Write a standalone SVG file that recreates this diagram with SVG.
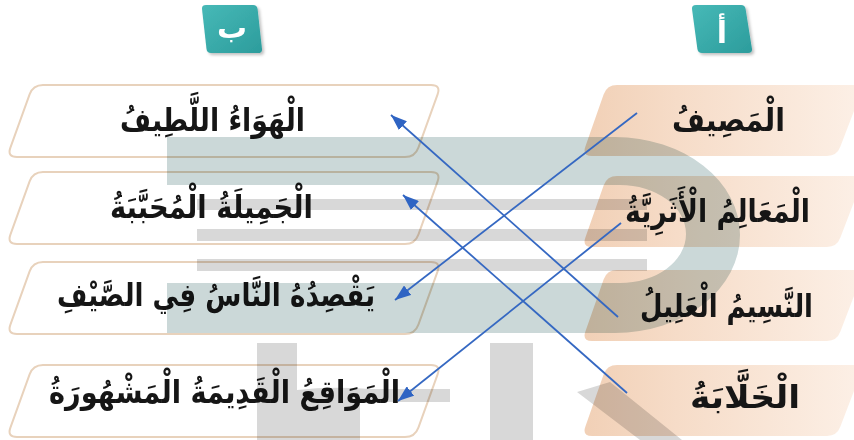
<svg xmlns="http://www.w3.org/2000/svg" xmlns:xlink="http://www.w3.org/1999/xlink" width="854" height="440" viewBox="0 0 854 440">
<defs>
<style>
.lbox{fill:#ffffff;stroke:#e8d2bc;stroke-width:2}
.rbox{fill:url(#peach)}
.t{font-family:"DejaVu Sans","Noto Sans",sans-serif;font-weight:bold;font-size:32px;fill:#161616;text-anchor:middle}
.tabt{font-family:"DejaVu Sans","Noto Sans",sans-serif;font-weight:bold;font-size:30px;fill:#ffffff;text-anchor:middle}
.tab{fill:url(#teal);filter:url(#sh)}
.wm{mix-blend-mode:multiply}
.conn{stroke:#3568c2;stroke-width:1.8;fill:none;marker-end:url(#ah)}
</style>
<linearGradient id="peach" gradientUnits="userSpaceOnUse" x1="582" y1="0" x2="854" y2="0">
<stop offset="0" stop-color="#f1d0b6"/>
<stop offset="0.35" stop-color="#f6dcc8"/>
<stop offset="1" stop-color="#fcefe5"/>
</linearGradient>
<linearGradient id="teal" x1="0" y1="0" x2="1" y2="1">
<stop offset="0" stop-color="#47b9b7"/>
<stop offset="1" stop-color="#2c9c9c"/>
</linearGradient>
<filter id="sh" x="-20%" y="-20%" width="150%" height="150%">
<feDropShadow dx="2" dy="2" stdDeviation="1.5" flood-color="#000" flood-opacity="0.25"/>
</filter>
<marker id="ah" viewBox="0 0 16 12" refX="16" refY="6" markerWidth="16" markerHeight="12" markerUnits="userSpaceOnUse" orient="auto">
<path d="M0,0 L16,6 L0,12 Z" fill="#2f64c3"/>
</marker>
<path id="lshape" d="M43,0 H431 Q441,0 437.6,9.4 L418.4,62.6 Q415,72 405,72 H17 Q7,72 10.4,62.6 L29.6,9.4 Q33,0 43,0 Z"/>
<path id="rshape" d="M617,0 H864 L840.4,61.6 Q837,71 827,71 H592 Q582,71 585.4,61.6 L603.6,9.4 Q607,0 617,0 Z"/>
</defs>
<rect width="854" height="440" fill="#ffffff"/>

<g id="tab-b">
<path class="tab" d="M206,5 H253 Q257,5 257.6,9 L262,49 Q262.4,53 258,53 H211 Q207,53 206.5,49 L202,9 Q201.6,5 206,5 Z"/>
<text class="tabt" x="232" y="38">ب</text>
</g>
<g id="tab-a">
<path class="tab" d="M696,5 H741 Q745,5 745.6,9 L752,49 Q752.4,53 748,53 H702 Q698,53 697.4,49 L692,9 Q691.6,5 696,5 Z"/>
<text class="tabt" x="722" y="43">أ</text>
</g>

<g id="b1"><use href="#lshape" class="lbox" y="85"/><text class="t" x="212.5" y="131" textLength="185" lengthAdjust="spacingAndGlyphs">الْهَوَاءُ اللَّطِيفُ</text></g>
<g id="b2"><use href="#lshape" class="lbox" y="172"/><text class="t" x="211.5" y="218" textLength="203" lengthAdjust="spacingAndGlyphs">الْجَمِيلَةُ الْمُحَبَّبَةُ</text></g>
<g id="b3"><use href="#lshape" class="lbox" y="262"/><text class="t" x="216" y="306" textLength="318" lengthAdjust="spacingAndGlyphs">يَقْصِدُهُ النَّاسُ فِي الصَّيْفِ</text></g>
<g id="b4"><use href="#lshape" class="lbox" y="365"/><text class="t" x="224.5" y="403" textLength="351" lengthAdjust="spacingAndGlyphs">الْمَوَاقِعُ الْقَدِيمَةُ الْمَشْهُورَةُ</text></g>

<g id="a1"><use href="#rshape" class="rbox" y="85"/><text class="t" x="728.5" y="131" textLength="113" lengthAdjust="spacingAndGlyphs">الْمَصِيفُ</text></g>
<g id="a2"><use href="#rshape" class="rbox" y="176"/><text class="t" x="717.5" y="222" textLength="185" lengthAdjust="spacingAndGlyphs">الْمَعَالِمُ الْأَثَرِيَّةُ</text></g>
<g id="a3"><use href="#rshape" class="rbox" y="270"/><text class="t" x="726.5" y="317" textLength="173" lengthAdjust="spacingAndGlyphs">النَّسِيمُ الْعَلِيلُ</text></g>
<g id="a4"><use href="#rshape" class="rbox" y="365"/><text class="t" x="745" y="408" textLength="110" lengthAdjust="spacingAndGlyphs">الْخَلَّابَةُ</text></g>

<g id="watermark" class="wm">
<path fill="#cbd8d8" d="M167,137 H615 A125,98 0 0 1 615,333 H167 V283 H620 A66,49 0 0 0 620,185 H167 Z"/>
<g fill="#d8d8d8">
<rect x="197" y="199" width="450" height="11"/>
<rect x="197" y="229" width="450" height="12"/>
<rect x="197" y="259" width="450" height="12"/>
<path d="M257,343 H297 V390 Q330,386 370,389 H450 V402 H360 V440 H257 Z"/>
<rect x="490" y="343" width="43" height="97"/>
<path d="M577,392 L610,382 L682,440 L640,440 Z"/>
</g>
</g>

<g id="connectors">
<line class="conn" x1="618" y1="317" x2="391" y2="115"/>
<line class="conn" x1="627" y1="393" x2="403" y2="195"/>
<line class="conn" x1="637" y1="113" x2="395" y2="300"/>
<line class="conn" x1="621" y1="223" x2="398" y2="401"/>
</g>
</svg>
